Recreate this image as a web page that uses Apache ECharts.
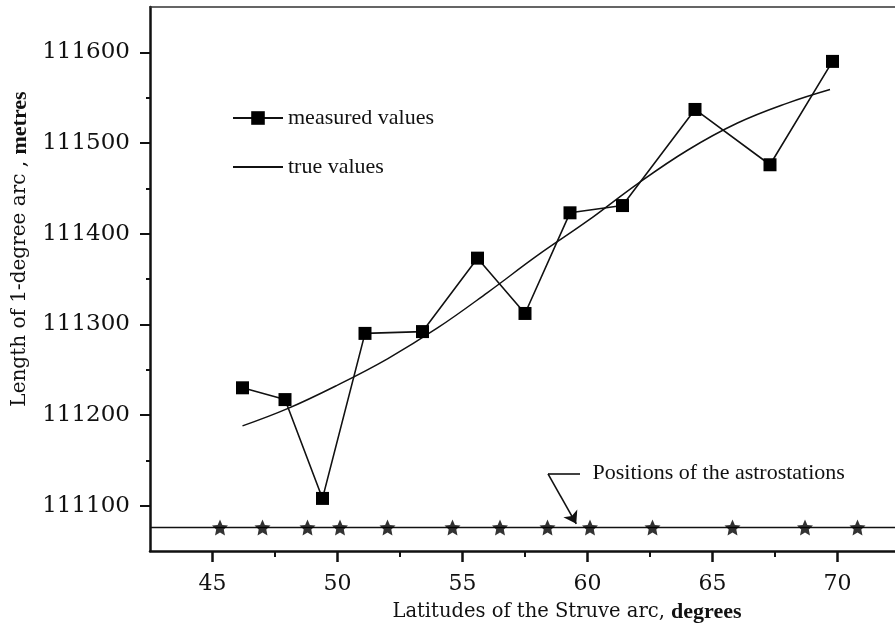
<!DOCTYPE html>
<html>
<head>
<meta charset="utf-8">
<script src="https://cdn.jsdelivr.net/npm/echarts@6/dist/echarts.min.js"></script>
<style>html,body{margin:0;padding:0;background:#fff}#c{width:895px;height:632px}</style>
</head>
<body>
<div id="c"></div>
<script>
// ---- data ----
const measuredLat = [46.2, 47.9, 49.4, 51.1, 53.4, 55.6, 57.5, 59.3, 61.4, 64.3, 67.3, 69.8];
const measuredLen = [111230, 111217, 111108, 111290, 111292, 111373, 111312, 111423, 111431, 111537, 111476, 111590];
const trueLat = [46.2, 48, 50, 52, 54, 56, 58, 60, 62, 64, 66, 68, 69.7];
const trueLen = [111188, 111207, 111233, 111262, 111296, 111335, 111376, 111414, 111455, 111492, 111522, 111544, 111559];
const stationLat = [45.3, 47.0, 48.8, 50.1, 52.0, 54.6, 56.5, 58.4, 60.1, 62.6, 65.8, 68.7, 70.8];
const stationLevel = 111076;
const latTicks = [45, 50, 55, 60, 65, 70];
const latMinorTicks = [47.5, 52.5, 57.5, 62.5, 67.5];
const lenTicks = [111100, 111200, 111300, 111400, 111500, 111600];
const lenMinorTicks = [111150, 111250, 111350, 111450, 111550];

const serifWide = 'DejaVu Serif';
const serifTimes = 'Liberation Serif';
const starPath = 'path://M0,-10 L2.8,-3.8 9.5,-3.1 4.5,1.5 5.9,8.1 0,4.8 -5.9,8.1 -4.5,1.5 -9.5,-3.1 -2.8,-3.8 Z';

const chart = echarts.init(document.getElementById('c'));
const xRange = {min: 42.5, max: 72.3};
const yRange = {min: 111050, max: 111650};

chart.setOption({
  animation: false,
  backgroundColor: '#fff',
  grid: {left: 150, right: 0, top: 7, bottom: 81},
  legend: {
    left: 227, top: 100, orient: 'vertical',
    itemWidth: 50, itemHeight: 17, itemGap: 23,
    data: [
      {name: 'measured values'},
      {name: 'true values', itemStyle: {opacity: 0}}
    ],
    textStyle: {fontFamily: serifTimes, fontSize: 22, color: '#111', lineHeight: 26}
  },
  xAxis: [
    {
      type: 'value', position: 'bottom', ...xRange,
      axisLine: {show: true, lineStyle: {color: '#111', width: 2.5}},
      axisTick: {show: true, inside: false, length: 11, customValues: latTicks, lineStyle: {color: '#111', width: 2.5}},
      axisLabel: {customValues: latTicks, margin: 22, fontFamily: serifWide, fontSize: 22, color: '#111'},
      splitLine: {show: false}
    },
    {
      type: 'value', position: 'bottom', ...xRange,
      axisLine: {show: false},
      axisTick: {show: true, length: 6, customValues: latMinorTicks, lineStyle: {color: '#111', width: 2}},
      axisLabel: {show: false}, splitLine: {show: false}
    },
    {
      type: 'value', position: 'top', ...xRange,
      axisLine: {show: true, lineStyle: {color: '#333', width: 1.5}},
      axisTick: {show: false}, axisLabel: {show: false}, splitLine: {show: false}
    }
  ],
  yAxis: [
    {
      type: 'value', position: 'left', ...yRange,
      axisLine: {show: true, lineStyle: {color: '#111', width: 2.5}},
      axisTick: {show: true, length: 10, customValues: lenTicks, lineStyle: {color: '#111', width: 2}},
      axisLabel: {customValues: lenTicks, margin: 20, fontFamily: serifWide, fontSize: 23, color: '#111',
        formatter: v => String(v)},
      splitLine: {show: false}
    },
    {
      type: 'value', position: 'left', ...yRange,
      axisLine: {show: false},
      axisTick: {show: true, length: 4, customValues: lenMinorTicks, lineStyle: {color: '#111', width: 2}},
      axisLabel: {show: false}, splitLine: {show: false}
    }
  ],
  graphic: [
    {
      type: 'text', x: 20, y: 249, rotation: Math.PI / 2,
      style: {
        text: '{a|Length of 1-degree arc , }{b|metres}',
        align: 'center', verticalAlign: 'middle', fill: '#111',
        rich: {
          a: {fontFamily: serifWide, fontSize: 20, fill: '#111'},
          b: {fontFamily: serifTimes, fontSize: 22, fontWeight: 'bold', fill: '#111'}
        }
      }
    },
    {
      type: 'text', x: 567, y: 612,
      style: {
        text: '{a|Latitudes of the Struve arc, }{b|degrees}',
        align: 'center', verticalAlign: 'middle', fill: '#111',
        rich: {
          a: {fontFamily: serifWide, fontSize: 19.5, fill: '#111'},
          b: {fontFamily: serifTimes, fontSize: 22, fontWeight: 'bold', fill: '#111'}
        }
      }
    }
  ],
  series: [
    {
      name: 'measured values', type: 'line', xAxisIndex: 0, yAxisIndex: 0,
      data: measuredLat.map((x, i) => [x, measuredLen[i]]),
      symbol: 'rect', symbolSize: 13,
      itemStyle: {color: '#000'},
      lineStyle: {color: '#111', width: 1.6},
      z: 5
    },
    {
      name: 'true values', type: 'line', xAxisIndex: 0, yAxisIndex: 0,
      data: trueLat.map((x, i) => [x, trueLen[i]]),
      symbol: 'none', smooth: 0.4,
      itemStyle: {color: '#111'},
      lineStyle: {color: '#111', width: 1.5},
      z: 4
    },
    {
      name: 'stations', type: 'scatter', xAxisIndex: 0, yAxisIndex: 0,
      data: stationLat.map(x => [x, stationLevel]),
      symbol: starPath, symbolSize: 16,
      itemStyle: {color: '#000'},
      z: 6,
      markLine: {
        silent: true, symbol: 'none', animation: false,
        label: {show: false},
        lineStyle: {color: '#111', width: 1.3, type: 'solid'},
        data: [{yAxis: stationLevel}]
      }
    },
    {
      name: 'annotation', type: 'line', xAxisIndex: 0, yAxisIndex: 0,
      data: [], silent: true,
      markLine: {
        silent: true, animation: false, symbol: ['none', 'arrow'], symbolSize: 12,
        label: {show: false},
        lineStyle: {color: '#111', width: 1.6, type: 'solid'},
        data: [
          [{coord: [59.7, 111135], symbol: 'none'}, {coord: [58.42, 111135], symbol: 'none'}],
          [{coord: [58.42, 111135]}, {coord: [59.55, 111080]}]
        ]
      },
      markPoint: {
        silent: true, animation: false, symbol: 'circle', symbolSize: 0,
        data: [{coord: [60.2, 111136]}],
        label: {
          show: true, position: 'right', distance: 0,
          formatter: 'Positions of the astrostations',
          fontFamily: serifTimes, fontSize: 22, color: '#111'
        }
      }
    }
  ]
});
</script>
</body>
</html>
